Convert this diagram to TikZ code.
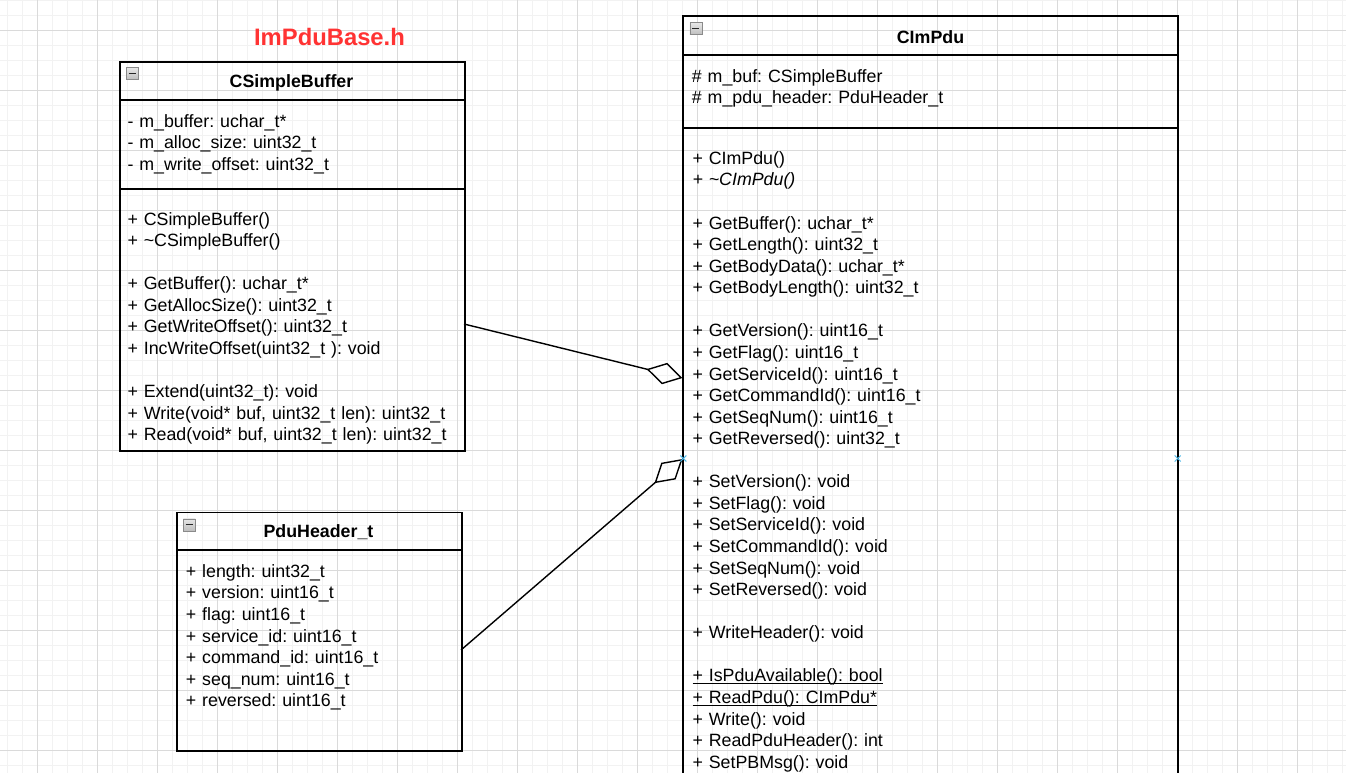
\documentclass[tikz,border=0pt]{standalone}
\usepackage{fontspec}
\setmainfont{Liberation Sans}
\usetikzlibrary{arrows.meta}
\frenchspacing
\definecolor{minorgrid}{HTML}{F2F2F2}
\definecolor{majorgrid}{HTML}{DADADA}
\definecolor{titlered}{HTML}{FF3333}
\definecolor{iconborder}{HTML}{8A8A8A}
\definecolor{icontop}{HTML}{E6E6E6}
\definecolor{iconbot}{HTML}{BDBDBD}
\definecolor{markblue}{HTML}{4DB8E8}
\newcommand\myul[1]{\leavevmode\setbox0\hbox{#1}\rlap{\rule[-2.4pt]{\wd0}{0.9pt}}\box0}
\tikzset{
  umlbox/.style={draw=black, line width=1.7pt, fill=none, rectangle, inner sep=0pt, anchor=north west},
  sepline/.style={draw=black, line width=1.7pt},
  umltitle/.style={font=\fontsize{17.8}{21.57}\selectfont\bfseries, anchor=base, inner sep=0pt},
  umltext/.style={font=\fontsize{17.8}{21.57}\selectfont\frenchspacing, anchor=base west, inner sep=0pt, text width=480pt, align=left},
  assoc/.style={draw=black, line width=1.4pt, -{Diamond[open, length=37pt, width=22pt, line width=1.4pt]}},
  minusicon/.style={draw=iconborder, line width=0.8pt, top color=icontop, bottom color=iconbot, rectangle, inner sep=0pt, minimum size=12pt, anchor=north west},
  hovermark/.style={draw=markblue, line width=1pt}
}
\begin{document}
\begin{tikzpicture}[x=1pt, y=-1pt]
\useasboundingbox (0,0) rectangle (1346,773);
% grid
\foreach \x in {7,22,...,1346} \draw[minorgrid, line width=0.8pt] (\x,0) -- (\x,773);
\foreach \y in {0,15,...,773} \draw[minorgrid, line width=0.8pt] (0,\y) -- (1346,\y);
\foreach \x in {37,97,...,1346} \draw[majorgrid, line width=0.8pt] (\x,0) -- (\x,773);
\foreach \y in {30,90,...,773} \draw[majorgrid, line width=0.8pt] (0,\y) -- (1346,\y);

% file label
\node[font=\fontsize{23.8}{28}\selectfont\bfseries, text=titlered, anchor=base, inner sep=0pt] (file) at (329.5,46) {ImPduBase.h};

% ---------- CSimpleBuffer ----------
\node[umlbox, minimum width=345pt, minimum height=389pt] (cb) at (119,61) {};
\draw[sepline] (119,100.3) -- (464,100.3);
\draw[sepline] (119,188.7) -- (464,188.7);
\node[minusicon] (cbicon) at (126,67.5) {};
\draw[black!85, line width=1.6pt] (128.5,73.5) -- (135.5,73.5);
\node[umltitle] (cbtitle) at (291.5,87.3) {CSimpleBuffer};
\node[umltext] (cbattr) at (127.3,127.3) {%
- m\_buffer: uchar\_t*\\
- m\_alloc\_size: uint32\_t\\
- m\_write\_offset: uint32\_t};
\node[umltext] (cbops) at (127.3,225) {%
+ CSimpleBuffer()\\
+ \textasciitilde CSimpleBuffer()\\[21.57pt]
+ GetBuffer(): uchar\_t*\\
+ GetAllocSize(): uint32\_t\\
+ GetWriteOffset(): uint32\_t\\
+ IncWriteOffset(uint32\_t ): void\\[21.57pt]
+ Extend(uint32\_t): void\\
+ Write(void* buf, uint32\_t len): uint32\_t\\
+ Read(void* buf, uint32\_t len): uint32\_t};

% ---------- PduHeader_t ----------
\node[umlbox, minimum width=285pt, minimum height=238.3pt] (ph) at (176,511.7) {};
\draw[sepline] (176,550.3) -- (461,550.3);
\node[minusicon] (phicon) at (183,518.5) {};
\draw[black!85, line width=1.6pt] (185.5,524.5) -- (192.5,524.5);
\node[umltitle] (phtitle) at (318.5,537.3) {PduHeader\_t};
\node[umltext] (phattr) at (185.7,577.3) {%
+ length: uint32\_t\\
+ version: uint16\_t\\
+ flag: uint16\_t\\
+ service\_id: uint16\_t\\
+ command\_id: uint16\_t\\
+ seq\_num: uint16\_t\\
+ reversed: uint16\_t};

% ---------- CImPdu ----------
\draw[line width=1.7pt] (683.3,790) -- (683.3,16) -- (1177.7,16) -- (1177.7,790);
\draw[sepline] (683.3,54.7) -- (1177.7,54.7);
\draw[sepline] (683.3,128.3) -- (1177.7,128.3);
\node[minusicon] (pduicon) at (689.5,22.5) {};
\draw[black!85, line width=1.6pt] (692,28.5) -- (699,28.5);
\node[umltitle] (pdutitle) at (930.5,43.7) {CImPdu};
\node[umltext] (pduattr) at (691.7,82.3) {%
\# m\_buf: CSimpleBuffer\\
\# m\_pdu\_header: PduHeader\_t};
\node[umltext] (pduops) at (692.3,164.3) {%
+ CImPdu()\\
\textit{+ \textasciitilde CImPdu()}\\[21.57pt]
+ GetBuffer(): uchar\_t*\\
+ GetLength(): uint32\_t\\
+ GetBodyData(): uchar\_t*\\
+ GetBodyLength(): uint32\_t\\[21.57pt]
+ GetVersion(): uint16\_t\\
+ GetFlag(): uint16\_t\\
+ GetServiceId(): uint16\_t\\
+ GetCommandId(): uint16\_t\\
+ GetSeqNum(): uint16\_t\\
+ GetReversed(): uint32\_t\\[21.57pt]
+ SetVersion(): void\\
+ SetFlag(): void\\
+ SetServiceId(): void\\
+ SetCommandId(): void\\
+ SetSeqNum(): void\\
+ SetReversed(): void\\[21.57pt]
+ WriteHeader(): void\\[21.57pt]
\myul{+ IsPduAvailable(): bool}\\
\myul{+ ReadPdu(): CImPdu*}\\
+ Write(): void\\
+ ReadPduHeader(): int\\
+ SetPBMsg(): void};

% ---------- connectors ----------
\coordinate (cbout) at (464,324);
\coordinate (pduin1) at (682.5,378);
\coordinate (phout) at (461,650);
\coordinate (pduin2) at (682.5,459);
\draw[assoc] (cbout) -- (pduin1);
\draw[assoc] (phout) -- (pduin2);

% hover markers
\coordinate (mk1) at (683.3,458.5);
\coordinate (mk2) at (1177.7,458.5);
\foreach \m in {mk1,mk2} {
  \draw[hovermark] ([shift={(-3pt,-3pt)}]\m) -- ([shift={(3pt,3pt)}]\m);
  \draw[hovermark] ([shift={(-3pt,3pt)}]\m) -- ([shift={(3pt,-3pt)}]\m);
}
\end{tikzpicture}
\end{document}
